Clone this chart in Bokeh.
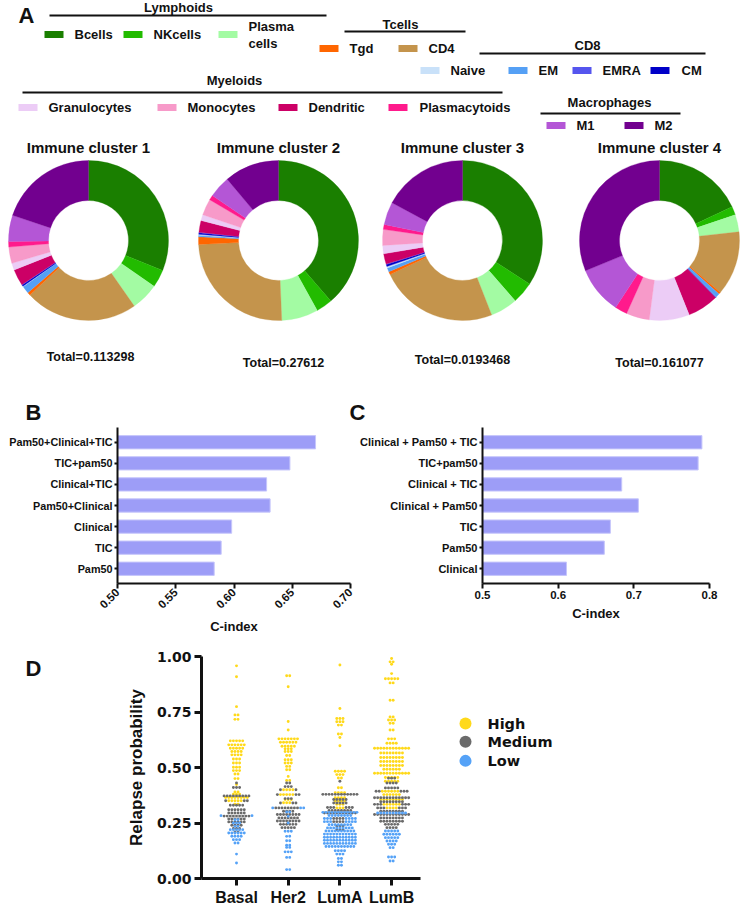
import math
from bokeh.plotting import figure
from bokeh.layouts import column, row
from bokeh.models import Range1d, FixedTicker, NumeralTickFormatter, ColumnDataSource
from bokeh.core.properties import value
from bokeh.embed import file_html
from bokeh.resources import INLINE

FONT = "Liberation Sans"
FONT_D = "DejaVu Sans"
INK = "#111111"

# ---------------- data: panel A ----------------
cell_types = ["Bcells", "NKcells", "Plasma cells", "Tgd", "CD4",
              "Naive", "EM", "EMRA", "CM",
              "Granulocytes", "Monocytes", "Dendritic", "Plasmacytoids",
              "M1", "M2"]
cell_colors = ["#1a7f00", "#22bb00", "#a3fba3", "#ff6600", "#c4944c",
               "#c9e1f9", "#55a0f5", "#5555ee", "#0000c8",
               "#ecccf6", "#f79ac9", "#cc0066", "#ff1a8c",
               "#b456d6", "#72008f"]
donut_order = ["Bcells", "NKcells", "Plasma cells", "CD4", "Tgd", "EM", "Naive",
               "CM", "EMRA", "Dendritic", "Granulocytes", "Monocytes",
               "Plasmacytoids", "M1", "M2"]
cluster_titles = ["Immune cluster 1", "Immune cluster 2", "Immune cluster 3", "Immune cluster 4"]
cluster_totals = ["Total=0.113298", "Total=0.27612", "Total=0.0193468", "Total=0.161077"]
# shares (%) in cell_types order
cluster1_share = [31.1, 3.6, 5.6, 0.6, 22.8, 0.1, 1.5, 0.1, 0.3, 1.4, 3.3, 3.3, 1.1, 5.3, 19.9]
cluster2_share = [38.7, 3.3, 7.4, 1.5, 24.9, 0.2, 0.3, 0.1, 0.3, 1.2, 3.3, 2.4, 1.0, 4.4, 11.1]
cluster3_share = [34.2, 4.4, 5.5, 0.6, 24.0, 0.3, 0.8, 0.1, 0.4, 1.7, 3.2, 2.1, 1.0, 4.6, 17.2]
cluster4_share = [18.1, 1.7, 3.5, 0.4, 13.0, 0.1, 0.8, 0.05, 0.05, 8.1, 4.7, 6.3, 2.5, 9.6, 31.2]
cluster_shares = [cluster1_share, cluster2_share, cluster3_share, cluster4_share]

group_names = ["Lymphoids", "Tcells", "CD8", "Myeloids", "Macrophages"]

# ---------------- data: panel B / C ----------------
b_models = ["Pam50+Clinical+TIC", "TIC+pam50", "Clinical+TIC", "Pam50+Clinical",
            "Clinical", "TIC", "Pam50"]
b_cindex = [0.670, 0.648, 0.628, 0.631, 0.598, 0.589, 0.583]
c_models = ["Clinical + Pam50 + TIC", "TIC+pam50", "Clinical + TIC", "Clinical + Pam50",
            "TIC", "Pam50", "Clinical"]
c_cindex = [0.790, 0.785, 0.684, 0.706, 0.669, 0.661, 0.611]
b_ticks = [0.50, 0.55, 0.60, 0.65, 0.70]
c_ticks = [0.5, 0.6, 0.7, 0.8]

# ---------------- data: panel D ----------------
subtypes = ["Basal", "Her2", "LumA", "LumB"]
risk_levels = ["High", "Medium", "Low"]
risk_colors = ["#ffd91a", "#6b6b6b", "#55a2f7"]
d_ticks = [0.0, 0.25, 0.5, 0.75, 1.0]

basal_high_vals = [0.958, 0.909, 0.774, 0.737, 0.717, 0.620, 0.602, 0.587, 0.572, 0.557, 0.538,
                   0.520, 0.501, 0.486, 0.471, 0.450, 0.423, 0.390, 0.380, 0.365, 0.350, 0.335]
basal_high_counts = [1, 1, 1, 2, 2, 5, 6, 5, 4, 4, 3, 3, 3, 3, 2, 2, 1, 2, 3, 8, 5, 2]
basal_med_vals = [0.430, 0.410, 0.372, 0.350, 0.330, 0.310, 0.295, 0.281, 0.268, 0.255, 0.240, 0.225, 0.210]
basal_med_counts = [1, 3, 9, 3, 5, 6, 6, 9, 6, 6, 4, 3, 2]
basal_low_vals = [0.283, 0.265, 0.250, 0.235, 0.220, 0.205, 0.190, 0.175, 0.160, 0.110, 0.070]
basal_low_counts = [2, 2, 3, 2, 5, 6, 4, 3, 2, 1, 1]

her2_high_vals = [0.913, 0.864, 0.707, 0.669, 0.629, 0.614, 0.596, 0.584, 0.572, 0.554, 0.535,
                  0.520, 0.505, 0.490, 0.460, 0.442, 0.400, 0.378, 0.356, 0.341]
her2_high_counts = [2, 1, 1, 1, 7, 6, 5, 3, 3, 2, 3, 3, 2, 2, 1, 2, 4, 5, 3, 3]
her2_med_vals = [0.430, 0.414, 0.400, 0.378, 0.360, 0.340, 0.318, 0.303, 0.288, 0.273, 0.259, 0.244, 0.229]
her2_med_counts = [2, 3, 2, 3, 3, 3, 8, 4, 8, 7, 8, 6, 5]
her2_low_vals = [0.318, 0.300, 0.280, 0.250, 0.213, 0.190, 0.170, 0.150, 0.140, 0.120, 0.095, 0.040]
her2_low_counts = [3, 2, 1, 1, 3, 2, 2, 2, 2, 3, 2, 2]

luma_high_vals = [0.962, 0.766, 0.721, 0.706, 0.691, 0.651, 0.635, 0.598, 0.483, 0.468, 0.453,
                  0.409, 0.386, 0.364, 0.349, 0.334, 0.318]
luma_high_counts = [1, 1, 3, 3, 2, 2, 1, 1, 4, 3, 2, 2, 4, 4, 4, 3, 3]
luma_med_vals = [0.438, 0.379, 0.356, 0.340, 0.320, 0.306, 0.295, 0.270, 0.256, 0.236, 0.220]
luma_med_counts = [1, 12, 5, 5, 6, 8, 11, 4, 4, 3, 3]
luma_low_vals = [0.298, 0.284, 0.270, 0.256, 0.242, 0.228, 0.214, 0.200, 0.186, 0.172, 0.158,
                 0.144, 0.125, 0.110, 0.090, 0.075, 0.060]
luma_low_counts = [12, 8, 7, 7, 8, 9, 10, 11, 11, 11, 11, 10, 4, 3, 2, 2, 2]

lumb_high_vals = [0.991, 0.976, 0.965, 0.923, 0.900, 0.881, 0.803, 0.728, 0.714, 0.699, 0.669,
                  0.629, 0.609, 0.587, 0.565, 0.545, 0.527, 0.509, 0.492, 0.474, 0.455, 0.438,
                  0.393, 0.378, 0.356, 0.334, 0.318]
lumb_high_counts = [1, 2, 1, 1, 5, 2, 2, 2, 3, 2, 2, 3, 4, 12, 8, 8, 8, 8, 6, 12, 5, 5, 6, 6, 8, 6, 4]
lumb_med_vals = [0.452, 0.430, 0.408, 0.393, 0.364, 0.346, 0.334, 0.318, 0.303, 0.288, 0.273,
                 0.258, 0.244, 0.229]
lumb_med_counts = [3, 4, 5, 5, 12, 8, 6, 6, 8, 12, 8, 8, 5, 4]
lumb_low_vals = [0.295, 0.214, 0.199, 0.184, 0.169, 0.154, 0.139, 0.097, 0.079]
lumb_low_counts = [10, 5, 6, 5, 4, 3, 2, 3, 2]

d_data = {
    "Basal": [(basal_high_vals, basal_high_counts), (basal_med_vals, basal_med_counts), (basal_low_vals, basal_low_counts)],
    "Her2": [(her2_high_vals, her2_high_counts), (her2_med_vals, her2_med_counts), (her2_low_vals, her2_low_counts)],
    "LumA": [(luma_high_vals, luma_high_counts), (luma_med_vals, luma_med_counts), (luma_low_vals, luma_low_counts)],
    "LumB": [(lumb_high_vals, lumb_high_counts), (lumb_med_vals, lumb_med_counts), (lumb_low_vals, lumb_low_counts)],
}


def txt(p, x, y, s, size, align="center", baseline="middle", font=FONT):
    p.text(x=[x], y=[y], text=[s], text_font=value(font), text_font_style="bold",
           text_font_size=size, text_align=align, text_baseline=baseline, text_color=INK)


def pixel_fig(x0, x1, y0, y1):
    p = figure(width=x1 - x0, height=y1 - y0, x_range=Range1d(x0, x1), y_range=Range1d(y1, y0),
               output_backend="svg", toolbar_location=None, min_border=0,
               x_axis_location=None, y_axis_location=None)
    p.grid.visible = False
    p.outline_line_color = None
    return p


# =============== Panel A (coordinates = page pixels) ===============
pa = pixel_fig(0, 740, 0, 425)
txt(pa, 26, 15, "A", "22px")
txt(pa, 33, 412, "B", "22px")
txt(pa, 357, 412, "C", "22px")

group_layout = {  # name: (text_x, text_y, line_x0, line_x1, line_y)
    "Lymphoids": (178, 7, 49, 326, 15),
    "Tcells": (400, 24, 344, 465, 31),
    "CD8": (587, 45, 479, 705, 53),
    "Myeloids": (234, 80, 22, 502, 92),
    "Macrophages": (609, 102, 540, 680, 113),
}
for g in group_names:
    tx, ty, lx0, lx1, ly = group_layout[g]
    txt(pa, tx, ty, g, "13px")
    pa.segment(x0=[lx0], y0=[ly], x1=[lx1], y1=[ly], line_color=INK, line_width=2.2)

legend_layout = {  # swatch left x, center y, label x
    "Bcells": (44, 34, 74), "NKcells": (123, 34, 153), "Plasma cells": (218, 34, 248),
    "Tgd": (319, 48, 349), "CD4": (398, 48, 428),
    "Naive": (420, 70, 450), "EM": (508, 70, 538), "EMRA": (572, 70, 602), "CM": (650, 70, 681),
    "Granulocytes": (18, 107, 48), "Monocytes": (157, 107, 187), "Dendritic": (278, 107, 308),
    "Plasmacytoids": (388, 107, 419),
    "M1": (546, 125, 576), "M2": (624, 125, 654),
}
sw_l, sw_r, sw_t, sw_b = [], [], [], []
for c in cell_types:
    sx, sy, lx = legend_layout[c]
    sw_l.append(sx); sw_r.append(sx + 19); sw_t.append(sy - 3.5); sw_b.append(sy + 3.5)
    if c == "Plasma cells":
        txt(pa, lx, sy - 8, "Plasma", "13px", align="left")
        txt(pa, lx, sy + 9, "cells", "13px", align="left")
    else:
        txt(pa, lx, sy, c, "13px", align="left")
pa.quad(left=sw_l, right=sw_r, top=sw_t, bottom=sw_b, fill_color=cell_colors, line_color=None)

donut_cx = [88, 278, 462, 659]
donut_cy = 240
title_y = 147
total_pos = [(90, 356), (283, 362), (462, 359), (659, 362)]
for k, share in enumerate(cluster_shares):
    vals = [share[cell_types.index(c)] for c in donut_order]
    cols = [cell_colors[cell_types.index(c)] for c in donut_order]
    tot = float(sum(vals))
    cum = 0.0
    starts, ends = [], []
    for v in vals:
        a0 = cum / tot * 2 * math.pi
        cum += v
        a1 = cum / tot * 2 * math.pi
        starts.append(math.pi / 2 - a0)
        ends.append(math.pi / 2 - a1)
    src = ColumnDataSource(dict(x=[donut_cx[k]] * len(vals), y=[donut_cy] * len(vals),
                                s=starts, e=ends, c=cols))
    pa.annular_wedge(x="x", y="y", inner_radius=40, outer_radius=80, start_angle="s",
                     end_angle="e", direction="clock", fill_color="c", line_color="c",
                     line_width=0.3, source=src)
    txt(pa, donut_cx[k], title_y, cluster_titles[k], "15px")
    txt(pa, total_pos[k][0], total_pos[k][1], cluster_totals[k], "12.5px")


# =============== Panels B and C ===============
def bar_panel(width, border_left, border_right, models, vals, xr, ticks, fmt, rotate, label_size):
    p = figure(width=width, height=215, x_range=Range1d(*xr), y_range=Range1d(-0.7, 6.7),
               output_backend="svg", toolbar_location=None,
               min_border_left=border_left, min_border_right=border_right,
               min_border_top=2, min_border_bottom=57)
    p.grid.visible = False
    p.outline_line_color = None
    ypos = list(range(len(models) - 1, -1, -1))
    p.hbar(y=ypos, right=vals, left=xr[0], height=0.63, fill_color="#9d9df7",
           line_color="#c6c6fb", line_width=1)
    p.yaxis.ticker = FixedTicker(ticks=ypos)
    p.yaxis.major_label_overrides = {yy: m for yy, m in zip(ypos, models)}
    p.xaxis.ticker = FixedTicker(ticks=ticks)
    p.xaxis.formatter = NumeralTickFormatter(format=fmt)
    if rotate:
        p.xaxis.major_label_orientation = math.pi / 4
    p.xaxis.axis_label = "C-index"
    for ax in (p.xaxis[0], p.yaxis[0]):
        ax.axis_line_width = 2
        ax.axis_line_color = INK
        ax.major_tick_line_width = 2
        ax.major_tick_line_color = INK
        ax.major_tick_in = 0
        ax.major_tick_out = 4
        ax.minor_tick_in = 0
        ax.minor_tick_out = 0
        ax.major_label_text_font = FONT
        ax.major_label_text_font_style = "bold"
        ax.major_label_text_color = INK
        ax.major_label_standoff = 2
    p.yaxis.major_tick_out = 3
    p.yaxis.major_label_text_font_size = label_size
    p.xaxis.major_label_text_font_size = "11.5px"
    p.xaxis.major_tick_out = 5
    p.xaxis.axis_label_text_font = FONT
    p.xaxis.axis_label_text_font_style = "bold"
    p.xaxis.axis_label_text_font_size = "13px"
    p.xaxis.axis_label_standoff = 4
    p.xaxis.axis_label_text_color = INK
    return p


pb = bar_panel(357, 117, 7, b_models, b_cindex, (0.50, 0.70), b_ticks, "0.00", True, "10.8px")
pc = bar_panel(383, 121, 31, c_models, c_cindex, (0.5, 0.8), c_ticks, "0.0", False, "11px")

# =============== Panel D ===============
D_PX_X = 51.7     # px per category unit
DOT_GAP = 3.1     # px between neighbouring dots of a row
D_Y0, D_Y1 = 640, 908

pdl = pixel_fig(0, 60, D_Y0, D_Y1)
txt(pdl, 33, 655, "D", "22px")

pdd = figure(width=380, height=D_Y1 - D_Y0, x_range=Range1d(-0.677, -0.677 + 219 / D_PX_X),
             y_range=Range1d(0, 1.0), output_backend="svg", toolbar_location=None,
             min_border_left=141, min_border_right=20, min_border_top=16, min_border_bottom=29)
pdd.grid.visible = False
pdd.outline_line_color = None

pts = {lvl: ([], []) for lvl in risk_levels}
for ci, st in enumerate(subtypes):
    entries = []
    for li, (vals, counts) in enumerate(d_data[st]):
        for v, n in zip(vals, counts):
            entries.append((v, li, n))
    entries.sort(key=lambda e: (-e[0], e[1]))
    dot_rows = []
    for e in entries:
        if dot_rows and abs(dot_rows[-1][0][0] - e[0]) <= 0.0025:
            dot_rows[-1].append(e)
        else:
            dot_rows.append([e])
    for r in dot_rows:
        members = []
        for v, li, n in sorted(r, key=lambda e: e[1]):
            members += [(v, li)] * n
        n = len(members)
        slots = sorted(((i - (n - 1) / 2.0) * DOT_GAP for i in range(n)), key=lambda s: (abs(s), s))
        for (v, li), s in zip(members, slots):
            pts[risk_levels[li]][0].append(ci + s / D_PX_X)
            pts[risk_levels[li]][1].append(v)

for lvl, col in zip(risk_levels, risk_colors):
    xs, ys = pts[lvl]
    pdd.scatter(x=xs, y=ys, size=2.9, marker="circle", fill_color=col, line_color=None)

pdd.yaxis.ticker = FixedTicker(ticks=d_ticks)
pdd.yaxis.formatter = NumeralTickFormatter(format="0.00")
pdd.xaxis.ticker = FixedTicker(ticks=list(range(len(subtypes))))
pdd.xaxis.major_label_overrides = {i: s for i, s in enumerate(subtypes)}
pdd.yaxis.axis_label = "Relapse probability"
for ax in (pdd.xaxis[0], pdd.yaxis[0]):
    ax.axis_line_width = 3
    ax.axis_line_color = INK
    ax.major_tick_line_width = 3
    ax.major_tick_line_color = INK
    ax.major_tick_in = 0
    ax.major_tick_out = 7
    ax.minor_tick_in = 0
    ax.minor_tick_out = 0
    ax.major_label_text_font_style = "bold"
    ax.major_label_text_color = INK
    ax.major_label_standoff = 3
pdd.yaxis.major_label_text_font = FONT_D
pdd.yaxis.major_label_text_font_size = "14px"
pdd.xaxis.major_label_text_font = FONT
pdd.xaxis.major_label_text_font_size = "16px"
pdd.yaxis.axis_label_text_font = FONT
pdd.yaxis.axis_label_text_font_style = "bold"
pdd.yaxis.axis_label_text_font_size = "17px"
pdd.yaxis.axis_label_standoff = 8
pdd.yaxis.axis_label_text_color = INK

# legend of panel D (keys placed in page pixels)
pleg = pixel_fig(440, 740, D_Y0, D_Y1)
leg_x, leg_lx = 465, 487
leg_y = [721, 743, 766]
pleg.scatter(x=[leg_x] * 3, y=leg_y, size=12, marker="circle", fill_color=risk_colors, line_color=None)
for lvl, yy in zip(risk_levels, leg_y):
    txt(pleg, leg_lx, yy, lvl, "14.5px", align="left", font=FONT_D)

layout = column(row(pa), row(pb, pc), row(pdl, pdd, pleg))
open("out.html", "w").write(file_html(layout, INLINE))
